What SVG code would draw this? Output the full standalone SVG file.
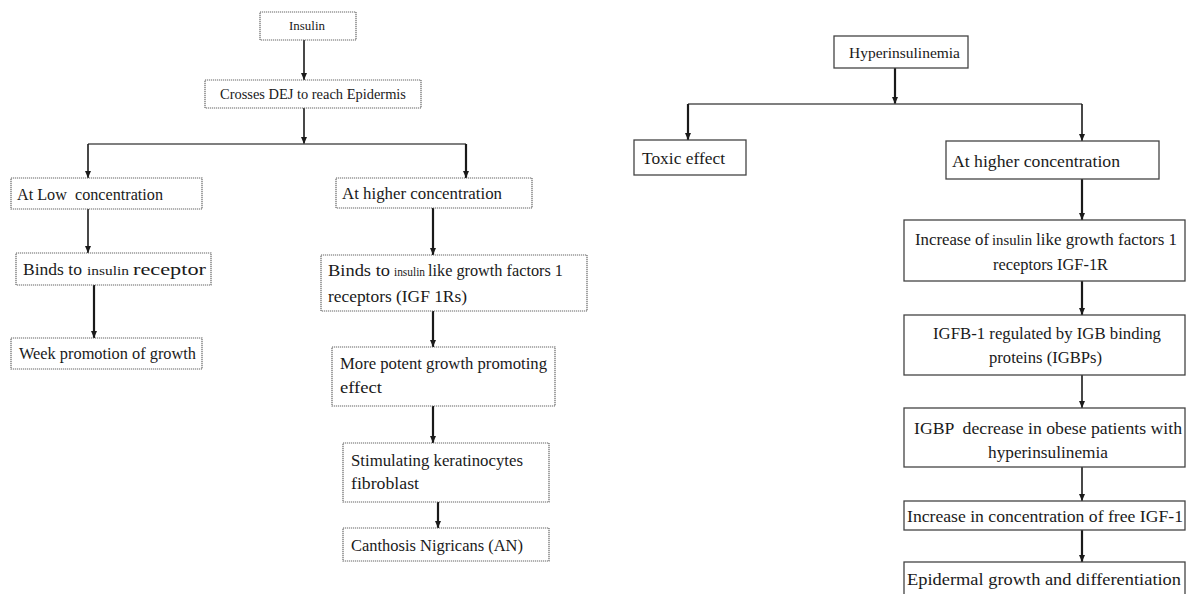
<svg xmlns="http://www.w3.org/2000/svg" width="1187" height="594" viewBox="0 0 1187 594">
<style>
  text { font-family: "Liberation Serif", "Times New Roman", "DejaVu Serif", serif; fill: #1a1a1a; }
  .bl { fill: #fff; stroke: #666; stroke-width: 1.2; stroke-dasharray: 1.2 0.8; }
  .br { fill: #fff; stroke: #444; stroke-width: 1.3; }
  .c { fill: none; stroke: #1a1a1a; stroke-width: 1.6; }
  .ct { fill: none; stroke: #1a1a1a; stroke-width: 2.2; }
  .h { fill: none; stroke: #555; stroke-width: 1.3; }
  .sm { font-size: 13px; }
  .sm2 { font-size: 14px; }
  .md { font-size: 16.5px; }
  .lg { font-size: 17.5px; }
  .hy { font-size: 15.5px; }
  .ins { font-size: 12.5px; }
  .insr { font-size: 14px; }
</style>
<defs>
  <marker id="ah" viewBox="0 0 10 10" refX="10" refY="5" markerWidth="7" markerHeight="6" markerUnits="userSpaceOnUse" orient="auto" preserveAspectRatio="none">
    <path d="M0,0 L10,5 L0,10 z" fill="#1a1a1a"/>
  </marker>
</defs>

<g id="connectors">
  <line class="c" x1="304" y1="40" x2="304" y2="80" marker-end="url(#ah)"/>
  <line class="c" x1="304" y1="108" x2="304" y2="144" marker-end="url(#ah)"/>
  <line class="h" x1="88" y1="144" x2="466" y2="144"/>
  <line class="c" x1="88" y1="144" x2="88" y2="178" marker-end="url(#ah)"/>
  <line class="ct" x1="466" y1="144" x2="466" y2="178" marker-end="url(#ah)"/>
  <line class="c" x1="88" y1="209" x2="88" y2="253" marker-end="url(#ah)"/>
  <line class="ct" x1="94" y1="285" x2="94" y2="338" marker-end="url(#ah)"/>
  <line class="ct" x1="433" y1="208" x2="433" y2="255" marker-end="url(#ah)"/>
  <line class="ct" x1="433" y1="311" x2="433" y2="347" marker-end="url(#ah)"/>
  <line class="ct" x1="433" y1="406" x2="433" y2="443" marker-end="url(#ah)"/>
  <line class="ct" x1="438" y1="502" x2="438" y2="528" marker-end="url(#ah)"/>
  <line class="ct" x1="895" y1="68" x2="895" y2="104" marker-end="url(#ah)"/>
  <line class="h" x1="688" y1="104" x2="1082" y2="104"/>
  <line class="ct" x1="688" y1="104" x2="688" y2="140" marker-end="url(#ah)"/>
  <line class="c" x1="1082" y1="104" x2="1082" y2="141" marker-end="url(#ah)"/>
  <line class="ct" x1="1082" y1="179" x2="1082" y2="220" marker-end="url(#ah)"/>
  <line class="ct" x1="1082" y1="281" x2="1082" y2="315" marker-end="url(#ah)"/>
  <line class="c" x1="1082" y1="375" x2="1082" y2="408" marker-end="url(#ah)"/>
  <line class="c" x1="1082" y1="467" x2="1082" y2="501" marker-end="url(#ah)"/>
  <line class="ct" x1="1082" y1="530" x2="1082" y2="562" marker-end="url(#ah)"/>
</g>

<g id="insulin">
  <rect class="bl" x="260" y="12" width="96" height="28"/>
  <text class="sm" x="289" y="30" textLength="36" lengthAdjust="spacingAndGlyphs">Insulin</text>
</g>
<g id="crosses">
  <rect class="bl" x="205" y="80" width="216" height="28"/>
  <text class="sm2" x="220" y="99" textLength="186" lengthAdjust="spacingAndGlyphs">Crosses DEJ to reach Epidermis</text>
</g>
<g id="low">
  <rect class="bl" x="11" y="178" width="191" height="31"/>
  <text class="md" x="17" y="200" textLength="146" lengthAdjust="spacingAndGlyphs" xml:space="preserve">At Low  concentration</text>
</g>
<g id="binds-ir">
  <rect class="bl" x="16" y="253" width="195" height="32"/>
  <text class="md" x="23" y="275" textLength="59" lengthAdjust="spacingAndGlyphs">Binds to</text>
  <text class="ins" x="87" y="275" textLength="42" lengthAdjust="spacingAndGlyphs">insulin</text>
  <text class="md" x="133" y="275" textLength="73" lengthAdjust="spacingAndGlyphs">receptor</text>
</g>
<g id="week">
  <rect class="bl" x="11" y="338" width="191" height="31"/>
  <text class="md" x="19" y="359" textLength="177" lengthAdjust="spacingAndGlyphs">Week promotion of growth</text>
</g>
<g id="higher-left">
  <rect class="bl" x="336" y="178" width="196" height="30"/>
  <text class="md" x="342" y="199" textLength="160" lengthAdjust="spacingAndGlyphs">At higher concentration</text>
</g>
<g id="binds-igf">
  <rect class="bl" x="321" y="255" width="266" height="56"/>
  <text class="md" x="328" y="276" textLength="62" lengthAdjust="spacingAndGlyphs">Binds to</text>
  <text class="ins" x="394" y="276" textLength="31" lengthAdjust="spacingAndGlyphs">insulin</text>
  <text class="md" x="428" y="276" textLength="135" lengthAdjust="spacingAndGlyphs">like growth factors 1</text>
  <text class="md" x="328" y="302" textLength="139" lengthAdjust="spacingAndGlyphs">receptors (IGF 1Rs)</text>
</g>
<g id="potent">
  <rect class="bl" x="332" y="347" width="223" height="59"/>
  <text class="md" x="340" y="369" textLength="207" lengthAdjust="spacingAndGlyphs">More potent growth promoting</text>
  <text class="md" x="340" y="393" textLength="42" lengthAdjust="spacingAndGlyphs">effect</text>
</g>
<g id="stimulating">
  <rect class="bl" x="343" y="443" width="206" height="59"/>
  <text class="md" x="351" y="466" textLength="172" lengthAdjust="spacingAndGlyphs">Stimulating keratinocytes</text>
  <text class="md" x="351" y="489" textLength="68" lengthAdjust="spacingAndGlyphs">fibroblast</text>
</g>
<g id="canthosis">
  <rect class="bl" x="343" y="528" width="206" height="33"/>
  <text class="md" x="351" y="551" textLength="172" lengthAdjust="spacingAndGlyphs">Canthosis Nigricans (AN)</text>
</g>

<g id="hyperinsulinemia">
  <rect class="br" x="834" y="36" width="134" height="32"/>
  <text class="hy" x="849" y="58" textLength="111" lengthAdjust="spacingAndGlyphs">Hyperinsulinemia</text>
</g>
<g id="toxic">
  <rect class="br" x="634" y="140" width="112" height="35"/>
  <text class="lg" x="642" y="164" textLength="83" lengthAdjust="spacingAndGlyphs">Toxic effect</text>
</g>
<g id="higher-right">
  <rect class="br" x="946" y="141" width="213" height="38"/>
  <text class="lg" x="952" y="167" textLength="168" lengthAdjust="spacingAndGlyphs">At higher concentration</text>
</g>
<g id="increase-igf1r">
  <rect class="br" x="904" y="220" width="281" height="61"/>
  <text class="lg" x="915" y="245" textLength="74" lengthAdjust="spacingAndGlyphs">Increase of</text>
  <text class="insr" x="992" y="245" textLength="40" lengthAdjust="spacingAndGlyphs">insulin</text>
  <text class="lg" x="1036" y="245" textLength="141" lengthAdjust="spacingAndGlyphs">like growth factors 1</text>
  <text class="lg" x="993" y="270" textLength="115" lengthAdjust="spacingAndGlyphs">receptors IGF-1R</text>
</g>
<g id="igfb">
  <rect class="br" x="904" y="315" width="281" height="60"/>
  <text class="lg" x="933" y="339" textLength="228" lengthAdjust="spacingAndGlyphs">IGFB-1 regulated by IGB binding</text>
  <text class="lg" x="989" y="363" textLength="113" lengthAdjust="spacingAndGlyphs">proteins (IGBPs)</text>
</g>
<g id="igbp">
  <rect class="br" x="904" y="408" width="281" height="59"/>
  <text class="lg" x="914" y="434" textLength="268" lengthAdjust="spacingAndGlyphs" xml:space="preserve">IGBP  decrease in obese patients with</text>
  <text class="lg" x="988" y="458" textLength="120" lengthAdjust="spacingAndGlyphs">hyperinsulinemia</text>
</g>
<g id="free-igf1">
  <rect class="br" x="904" y="501" width="281" height="29"/>
  <text class="lg" x="907" y="522" textLength="276" lengthAdjust="spacingAndGlyphs">Increase in concentration of free IGF-1</text>
</g>
<g id="epidermal">
  <rect class="br" x="904" y="562" width="281" height="40"/>
  <text class="lg" x="907" y="585" textLength="274" lengthAdjust="spacingAndGlyphs">Epidermal growth and differentiation</text>
</g>
</svg>
